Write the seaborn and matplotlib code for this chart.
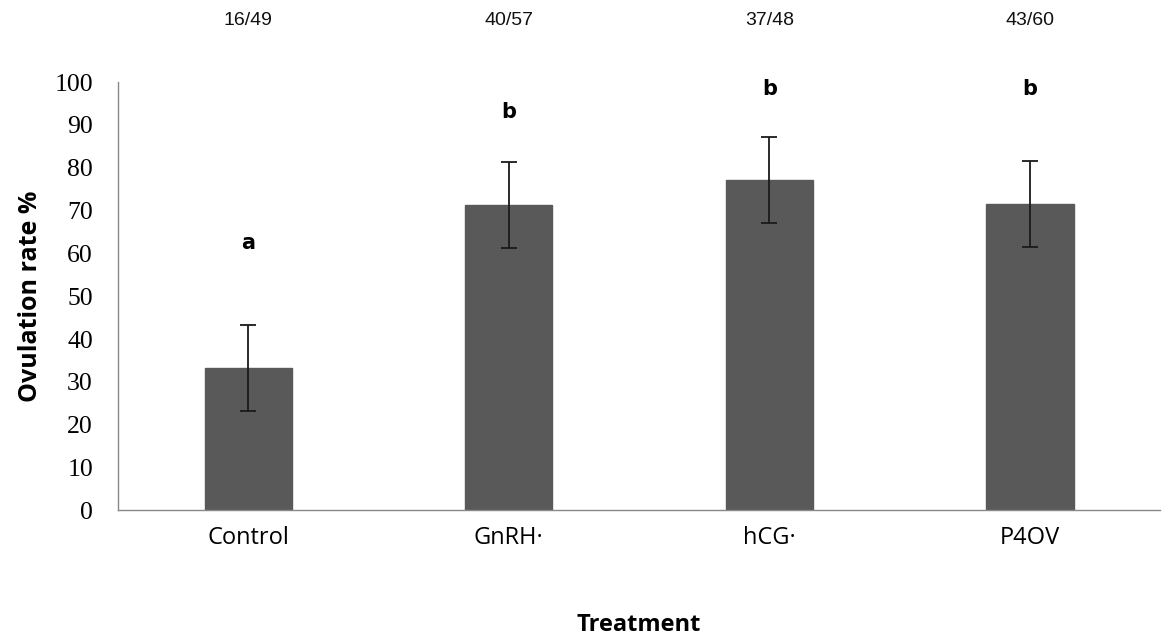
import matplotlib
matplotlib.use('Agg')
import matplotlib.pyplot as plt
import seaborn as sns
import numpy as np
import pandas as pd

# data
treatments = ['Control', 'GnRH\u00b7', 'hCG\u00b7', 'P4OV']
ovulation = [33.2, 71.3, 77.1, 71.5]
err = [10, 10, 10, 10]
letters = ['a', 'b', 'b', 'b']
letter_y = [62.5, 93, 98.5, 98.5]
counts = ['16/49', '40/57', '37/48', '43/60']

df = pd.DataFrame({'Treatment': treatments, 'rate': ovulation})

sns.set_style('white')
fig = plt.figure(figsize=(11.62, 6.37), dpi=100)
ax = fig.add_axes([0.1015, 0.199, 0.897, 0.672])

sns.barplot(data=df, x='Treatment', y='rate', color='#595959', saturation=1,
            width=0.335, errorbar=None, ax=ax)
for p in ax.patches:
    p.set_edgecolor('#595959')
ax.errorbar(np.arange(len(treatments)), ovulation, yerr=err, fmt='none',
            ecolor='#1a1a1a', elinewidth=1.3, capsize=6, capthick=1.3)

for i, (l, ly) in enumerate(zip(letters, letter_y)):
    ax.text(i, ly, l, ha='center', va='center', fontsize=15,
            fontweight='bold', family='DejaVu Sans', color='black')
for i, c in enumerate(counts):
    ax.text(i, 114.5, c, ha='center', va='center', fontsize=14,
            family='Liberation Sans', color='#111111', clip_on=False)

ax.set_ylim(0, 100)
ax.set_xlim(-0.5, 3.5)
ax.set_yticks(range(0, 101, 10))
ax.set_yticklabels([str(v) for v in range(0, 101, 10)], family='Liberation Serif',
                   fontsize=18.5, color='black')
ax.set_xticklabels(treatments, family='Open Sans', fontsize=17, color='black')
ax.tick_params(axis='both', length=0)
ax.tick_params(axis='y', pad=18)
ax.tick_params(axis='x', pad=11)

ax.set_ylabel('Ovulation rate %', fontsize=18, fontweight='bold', family='Open Sans',
              labelpad=8, color='black')
ax.set_xlabel('Treatment', fontsize=17, fontweight='bold', family='Open Sans',
              labelpad=46, color='black')

for s in ['top', 'right']:
    ax.spines[s].set_visible(False)
ax.spines['left'].set_color('#888888')
ax.spines['bottom'].set_color('#888888')
ax.spines['left'].set_linewidth(1)
ax.spines['bottom'].set_linewidth(1)

fig.savefig('out.png', dpi=100, facecolor='white')
